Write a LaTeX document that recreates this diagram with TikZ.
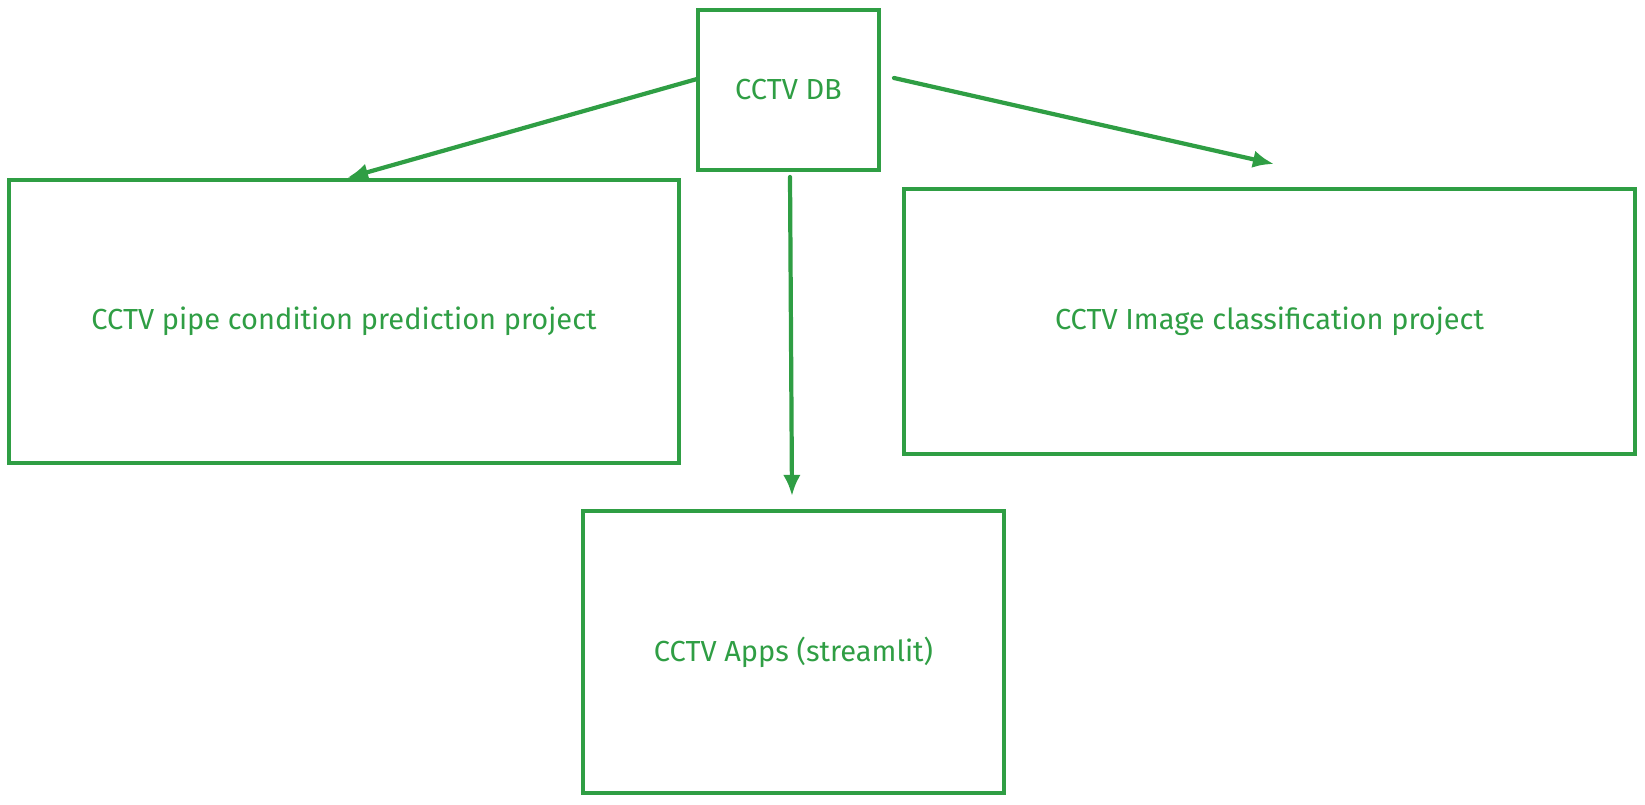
\documentclass[tikz,border=0pt]{standalone}
\usepackage{fontspec}
\setmainfont{Fira Sans}
\usepackage{xcolor}
\usetikzlibrary{arrows.meta, positioning}

\definecolor{boxgreen}{HTML}{2F9E44}

\begin{document}
\begin{tikzpicture}[x=0.02cm, y=-0.02cm,
    >={Latex[length=12pt, width=10pt]},
    box/.style={draw=boxgreen, line width=2.2pt, text=boxgreen,
        font=\fontsize{16.5}{20}\selectfont, inner sep=0pt},
    link/.style={->, draw=boxgreen, line width=2.4pt, line cap=round}]
    \useasboundingbox (0,0) rectangle (1645,804);

    % 1. Các khối
    \node[box, minimum width=3.62cm, minimum height=3.2cm] (db) at (788.5,90) {CCTV DB};
    \node[box, minimum width=13.4cm, minimum height=5.66cm] (pipe) at (344,321.5)
        {CCTV pipe condition prediction project};
    \node[box, minimum width=14.62cm, minimum height=5.3cm] (image) at (1269.5,321.5)
        {CCTV Image classification project};
    \node[box, minimum width=8.42cm, minimum height=5.64cm] (apps) at (793.5,652)
        {CCTV Apps (streamlit)};

    % 2. Điểm đầu, điểm cuối của mũi tên
    \coordinate (pipe-from) at (697,79);
    \coordinate (pipe-to) at (347,178);
    \coordinate (image-from) at (894,78);
    \coordinate (image-to) at (1274,164);
    \coordinate (apps-from) at (790,177);
    \coordinate (apps-to) at (792,496);

    % 3. Mũi tên
    \draw[link] (pipe-from) -- (pipe-to);
    \draw[link] (image-from) -- (image-to);
    \draw[link] (apps-from) -- (apps-to);

\end{tikzpicture}
\end{document}
